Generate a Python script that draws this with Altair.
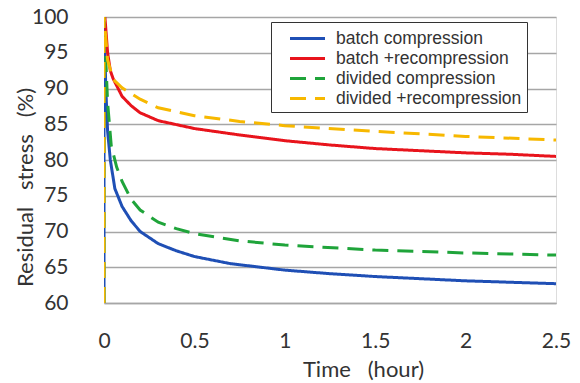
import altair as alt
import pandas as pd

series_names = ["batch compression", "batch +recompression", "divided compression", "divided +recompression"]
colors = ["#1f4fb5", "#e8141c", "#1fa43a", "#f7b800"]

blue_t = [0, 0, 0.01, 0.02, 0.035, 0.06, 0.1, 0.15, 0.2, 0.3, 0.4, 0.5, 0.7, 1.0, 1.25, 1.5, 1.75, 2.0, 2.25, 2.5]
blue_v = [60, 100, 90, 84, 80, 76, 73.5, 71.5, 70, 68.3, 67.3, 66.5, 65.5, 64.6, 64.1, 63.7, 63.4, 63.1, 62.9, 62.7]

red_t = [0.005, 0.02, 0.035, 0.05, 0.1, 0.15, 0.2, 0.3, 0.5, 0.75, 1.0, 1.25, 1.5, 1.75, 2.0, 2.25, 2.5]
red_v = [100, 95, 92.5, 91.4, 88.9, 87.6, 86.6, 85.5, 84.4, 83.5, 82.7, 82.1, 81.6, 81.3, 81.0, 80.8, 80.5]

green_t = [0, 0, 0.02, 0.04, 0.07, 0.1, 0.15, 0.2, 0.3, 0.4, 0.5, 0.75, 1.0, 1.5, 2.0, 2.5]
green_v = [60, 100, 88, 82, 79, 77, 74.5, 73, 71.3, 70.4, 69.7, 68.7, 68.1, 67.4, 67.0, 66.7]

yellow_t = [0, 0, 0.02, 0.05, 0.1, 0.2, 0.3, 0.5, 0.75, 1.0, 1.5, 2.0, 2.5]
yellow_v = [60, 100, 94, 91.3, 90.1, 88.5, 87.3, 86.2, 85.4, 84.8, 84.0, 83.3, 82.8]

rows = []
for name, ts, vs in zip(series_names, [blue_t, red_t, green_t, yellow_t], [blue_v, red_v, green_v, yellow_v]):
    for i, (t, v) in enumerate(zip(ts, vs)):
        rows.append({"series": name, "t": t, "v": v, "idx": i})
df = pd.DataFrame(rows)

x_ticks = [0, 0.5, 1, 1.5, 2, 2.5]
y_ticks = [60, 65, 70, 75, 80, 85, 90, 95, 100]

NB = "\u00a0"
x_title = "Time" + NB * 3 + "(hour)"
y_title = "Residual" + NB * 3 + "stress" + NB * 3 + "(%)"

leg = dict(title=None, orient="none", legendX=167, legendY=5)

chart = alt.Chart(df).mark_line(clip=True).encode(
    x=alt.X("t:Q", scale=alt.Scale(domain=[0, 2.5], nice=False),
            axis=alt.Axis(values=x_ticks, labelExpr="datum.value", title=x_title,
                          grid=False, ticks=False, domain=True, domainColor="#a6a6a6", domainWidth=1.5,
                          labelFontSize=21, labelPadding=27, labelColor="#333333", labelFont="Lato",
                          titleFontSize=22, titleFont="Lato", titleFontWeight="normal", titleColor="#333333",
                          titleX=259, titleY=73, titleBaseline="alphabetic", titleAlign="center",
                          labelFlush=False)),
    y=alt.Y("v:Q", scale=alt.Scale(domain=[60, 100], nice=False),
            axis=alt.Axis(values=y_ticks, title=y_title, grid=True,
                          gridColor="#a6a6a6", gridWidth=1.5, ticks=False, domain=False,
                          labelFontSize=21, labelPadding=36, labelColor="#333333", labelFont="Lato",
                          titleFontSize=22, titleFont="Lato", titleFontWeight="normal", titleColor="#333333",
                          titleX=-79, titleY=170, titleBaseline="middle", titleAlign="center", titleAngle=270)),
    color=alt.Color("series:N", scale=alt.Scale(domain=series_names, range=colors),
                    legend=alt.Legend(**leg, fillColor="white", strokeColor="#333333", padding=5,
                                      labelFont="Liberation Sans", labelFontSize=17.5, labelColor="#333333",
                                      symbolType="M-1.75,0H1.75", symbolSize=400, rowPadding=0,
                                      symbolOffset=20, labelOffset=17, labelLimit=300, offset=0)),
    strokeDash=alt.StrokeDash("series:N", scale=alt.Scale(domain=series_names, range=[[1, 0], [1, 0], [16, 9], [16, 9]]),
                              legend=alt.Legend(**leg)),
    strokeWidth=alt.StrokeWidth("series:N", scale=alt.Scale(domain=series_names, range=[3, 3, 4, 4]),
                                legend=alt.Legend(**leg)),
    order="idx:Q",
).properties(
    width=452, height=286,
    autosize=alt.AutoSizeParams(type="none"),
    padding={"left": 96, "top": 9, "right": 16, "bottom": 80},
).configure_view(fill="#f2f2f2", stroke=None).configure(background="white")

chart.save("out.html", embed_options={"renderer": "svg", "actions": False})
